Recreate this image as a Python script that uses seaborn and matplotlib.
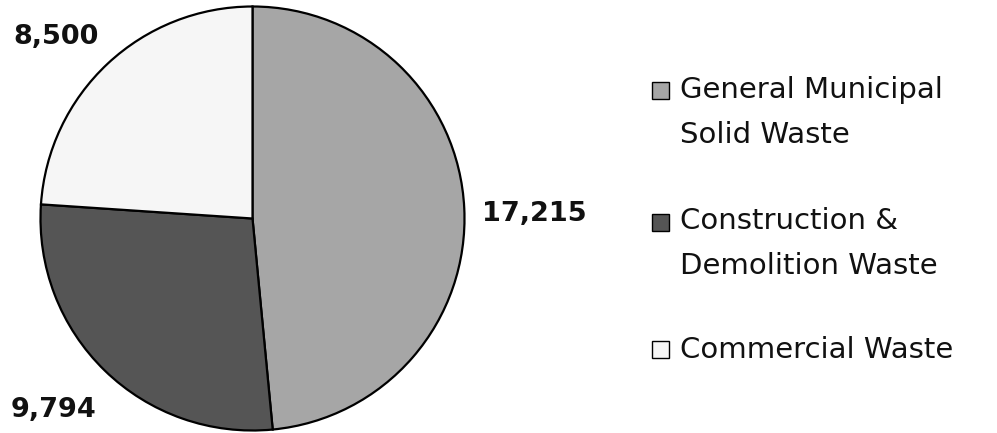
import matplotlib
matplotlib.use("Agg")
import matplotlib.pyplot as plt
from matplotlib.patches import Rectangle
import seaborn as sns

categories = ["General Municipal\nSolid Waste", "Construction &\nDemolition Waste", "Commercial Waste"]
values = [17215, 9794, 8500]
colors = ["#a6a6a6", "#555555", "#f6f6f6"]

sns.set_theme(style="white")
plt.rcParams['font.family'] = ['DejaVu Sans']

W, H = 997, 433
fig = plt.figure(figsize=(W / 100, H / 100), dpi=100)
fig.patch.set_facecolor("white")

cx, cy, r = 252.5, 218.5, 212
ax = fig.add_axes([(cx - r) / W, (H - cy - r) / H, 2 * r / W, 2 * r / H])
wedges, _ = ax.pie(values, colors=colors, startangle=90, counterclock=False,
                   wedgeprops=dict(edgecolor="black", linewidth=1.6))
ax.set_xlim(-1, 1)
ax.set_ylim(-1, 1)
ax.set_aspect("equal")
ax.axis("off")

label_pos = [(1.33, 0.02), (-0.94, -0.905), (-0.925, 0.855)]
for v, (x, y) in zip(values, label_pos):
    ax.text(x, y, f"{v:,}", ha="center", va="center", fontsize=19.5,
            fontweight="bold", color="#111111", clip_on=False)

# legend
sq = 17
sq_x = 652
sq_y = [82, 214, 341]
text_x = 680
baselines = [98, 229, 358]
for col, lab, sy, bl in zip(colors, categories, sq_y, baselines):
    fig.patches.append(Rectangle((sq_x / W, (H - sy - sq) / H), sq / W, sq / H,
                                 transform=fig.transFigure, facecolor=col,
                                 edgecolor="black", linewidth=1.0))
    lines = lab.split("\n")
    for i, ln in enumerate(lines):
        fig.text(text_x / W, (H - bl - 45 * i) / H, ln, ha="left", va="baseline",
                 fontsize=21, color="#111111")

fig.savefig("out.png", dpi=100, facecolor="white")
